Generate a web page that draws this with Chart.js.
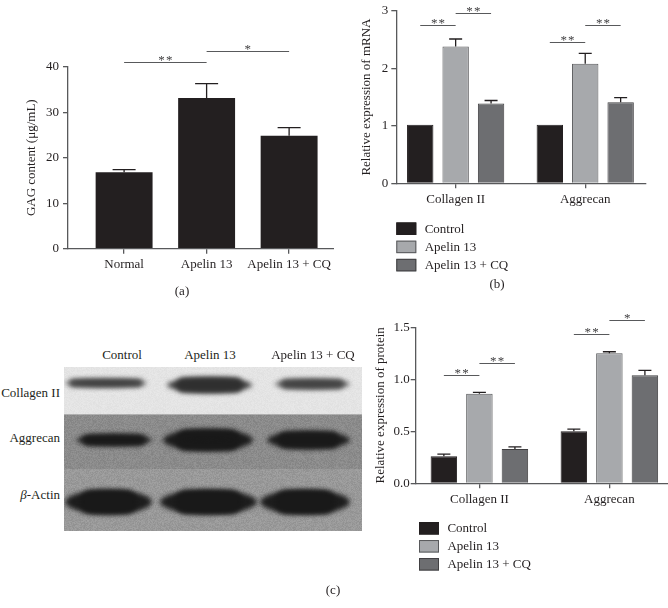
<!DOCTYPE html>
<html>
<head>
<meta charset="utf-8">
<script src="https://cdn.jsdelivr.net/npm/chart.js@4.4.1/dist/chart.umd.min.js"></script>
<style>
  html, body { margin: 0; padding: 0; background: #fff; }
  body { width: 668px; height: 608px; position: relative; overflow: hidden;
         font-family: 'Liberation Serif', 'Times New Roman', serif; color: #231f20; }
  .abs { position: absolute; }
  .lbl { position: absolute; font-size: 13px; line-height: 1; white-space: nowrap; transform: translate(-50%, -50%); }
  .rl { position: absolute; font-size: 13px; line-height: 1; white-space: nowrap; transform: translate(-100%, -50%); }
</style>
</head>
<body>
<canvas id="chartA" class="abs" width="334" height="310" style="left:0;top:0"></canvas>
<canvas id="chartB" class="abs" width="334" height="300" style="left:334px;top:0"></canvas>
<canvas id="blot" class="abs" width="298" height="164" style="left:64px;top:367px"></canvas>
<canvas id="chartC" class="abs" width="308" height="298" style="left:360px;top:310px"></canvas>

<div class="lbl" style="left:182px;top:290px">(a)</div>
<div class="lbl" style="left:497px;top:283px">(b)</div>
<div class="lbl" style="left:333px;top:589px">(c)</div>

<div class="lbl" style="left:122px;top:354px">Control</div>
<div class="lbl" style="left:210px;top:354px">Apelin 13</div>
<div class="lbl" style="left:313px;top:354px">Apelin 13 + CQ</div>
<div class="rl" style="left:60px;top:392px">Collagen II</div>
<div class="rl" style="left:60px;top:437px">Aggrecan</div>
<div class="rl" style="left:60px;top:494px"><i>β</i>-Actin</div>

<script>
// ---------------- DATA ----------------
const gagCategories = ['Normal', 'Apelin 13', 'Apelin 13 + CQ'];
const gagValues = [16.8, 33.1, 24.8];
const gagErrors = [0.6, 3.2, 1.8];

const geneCategories = ['Collagen II', 'Aggrecan'];
const groupLabels = ['Control', 'Apelin 13', 'Apelin 13 + CQ'];

const mrnaControl = [1.02, 1.02];
const mrnaApelin = [2.38, 2.08];
const mrnaApelinCQ = [1.39, 1.41];
const mrnaControlErr = [0, 0];
const mrnaApelinErr = [0.13, 0.18];
const mrnaApelinCQErr = [0.05, 0.08];

const proteinControl = [0.26, 0.50];
const proteinApelin = [0.86, 1.25];
const proteinApelinCQ = [0.33, 1.04];
const proteinControlErr = [0.02, 0.02];
const proteinApelinErr = [0.015, 0.015];
const proteinApelinCQErr = [0.02, 0.045];

// significance brackets: [datasetIndex, dataIndex] pairs, level in axis units
const gagSig = [
  { a: [0, 0], b: [0, 1], level: 41.0, text: '**' },
  { a: [0, 1], b: [0, 2], level: 43.4, text: '*' }
];
const mrnaSig = [
  { a: [0, 0], b: [1, 0], level: 2.75, text: '**' },
  { a: [1, 0], b: [2, 0], level: 2.96, text: '**' },
  { a: [0, 1], b: [1, 1], level: 2.46, text: '**' },
  { a: [1, 1], b: [2, 1], level: 2.75, text: '**' }
];
const proteinSig = [
  { a: [0, 0], b: [1, 0], level: 1.04, text: '**' },
  { a: [1, 0], b: [2, 0], level: 1.16, text: '**' },
  { a: [0, 1], b: [1, 1], level: 1.435, text: '**' },
  { a: [1, 1], b: [2, 1], level: 1.57, text: '*' }
];

// ---------------- STYLE ----------------
const INK = '#231f20';
const AXIS = '#58595b';
const FONT = "'Liberation Serif', 'Times New Roman', serif";
const fills = ['#231f20', '#a7a9ac', '#6d6e71'];
const edges = ['#231f20', '#58595b', '#414042'];

Chart.defaults.font.family = FONT;
Chart.defaults.font.size = 13;
Chart.defaults.color = INK;
Chart.defaults.animation = false;
Chart.defaults.plugins.legend.display = false;
Chart.defaults.plugins.tooltip.enabled = false;

// ---------------- PLUGINS ----------------
const errorBars = {
  id: 'errorBars',
  afterDatasetsDraw(chart, args, o) {
    const ctx = chart.ctx, ys = chart.scales.y;
    ctx.save();
    ctx.strokeStyle = INK;
    ctx.lineWidth = 1.3;
    chart.data.datasets.forEach((ds, di) => {
      const errs = ds.errors;
      if (!errs) return;
      chart.getDatasetMeta(di).data.forEach((el, i) => {
        const e = errs[i];
        if (!e) return;
        const yt = ys.getPixelForValue(ds.data[i].y + e);
        ctx.beginPath();
        ctx.moveTo(el.x, el.y);
        ctx.lineTo(el.x, yt);
        ctx.moveTo(el.x - o.cap / 2, yt);
        ctx.lineTo(el.x + o.cap / 2, yt);
        ctx.stroke();
      });
    });
    ctx.restore();
  }
};

const sigBars = {
  id: 'sigBars',
  afterDraw(chart, args, o) {
    const items = o.items || [];
    const ctx = chart.ctx, ys = chart.scales.y;
    ctx.save();
    ctx.strokeStyle = AXIS;
    ctx.lineWidth = 1.2;
    ctx.fillStyle = '#414042';
    ctx.font = '13px ' + FONT;
    ctx.textAlign = 'center';
    ctx.textBaseline = 'alphabetic';
    items.forEach(it => {
      const x1 = chart.getDatasetMeta(it.a[0]).data[it.a[1]].x;
      const x2 = chart.getDatasetMeta(it.b[0]).data[it.b[1]].x;
      const y = Math.round(ys.getPixelForValue(it.level)) + 0.5;
      ctx.beginPath();
      ctx.moveTo(x1, y);
      ctx.lineTo(x2, y);
      ctx.stroke();
      const t = it.text.split('').join('\u200A');
      ctx.fillText(t, (x1 + x2) / 2, y + 1.5);
    });
    ctx.restore();
  }
};

const boxLegend = {
  id: 'boxLegend',
  afterDraw(chart, args, o) {
    if (o.x === undefined) return;
    const ctx = chart.ctx;
    ctx.save();
    ctx.font = '13px ' + FONT;
    ctx.textAlign = 'left';
    ctx.textBaseline = 'middle';
    chart.data.datasets.forEach((ds, i) => {
      const cy = o.y + i * o.gap;
      ctx.fillStyle = ds.backgroundColor;
      ctx.fillRect(o.x, cy - o.h / 2, o.w, o.h);
      ctx.strokeStyle = ds.borderColor;
      ctx.lineWidth = 1;
      ctx.strokeRect(o.x + 0.5, cy - o.h / 2 + 0.5, o.w - 1, o.h - 1);
      ctx.fillStyle = INK;
      ctx.fillText(ds.label, o.x + o.w + o.pad, cy + 0.5);
    });
    ctx.restore();
  }
};

// ---------------- HELPERS ----------------
function toPoints(values) { return values.map((v, i) => ({ x: i, y: v })); }

function axisCommon() {
  return {
    offset: false,
    border: { display: true, color: AXIS, width: 1.3 },
    grid: { display: true, offset: false, drawOnChartArea: false, drawTicks: true, tickLength: 5, color: AXIS, lineWidth: 1.3 }
  };
}

function makeChart(id, cfg) {
  const x = Object.assign(axisCommon(), {
    type: 'linear',
    min: cfg.xmin, max: cfg.xmax,
    afterBuildTicks: s => { s.ticks = cfg.categories.map((_, i) => ({ value: i })); },
    afterFit: s => { s.height = cfg.xHeight; },
    ticks: {
      autoSkip: false, maxRotation: 0, minRotation: 0, padding: 3,
      color: INK, font: { size: 13 },
      callback: v => cfg.categories[v]
    }
  });
  const y = Object.assign(axisCommon(), {
    min: cfg.ymin, max: cfg.ymax,
    afterFit: s => { s.width = cfg.yWidth; },
    ticks: {
      stepSize: cfg.ystep, padding: cfg.yPad, color: INK, font: { size: 13 },
      callback: cfg.yFmt || (v => v)
    },
    title: {
      display: true, text: cfg.yTitle, color: INK, font: { size: 13 },
      padding: { top: cfg.titleOff, bottom: 0 }
    }
  });
  return new Chart(document.getElementById(id), {
    type: 'bar',
    data: { datasets: cfg.datasets },
    options: {
      responsive: false,
      maintainAspectRatio: false,
      layout: { padding: { left: 0, top: cfg.padTop, right: cfg.padRight, bottom: 0 } },
      scales: { x, y },
      plugins: {
        errorBars: { cap: cfg.cap },
        sigBars: { items: cfg.sig },
        boxLegend: cfg.legend || {}
      }
    },
    plugins: [errorBars, sigBars, boxLegend]
  });
}

function groupedDatasets(series, errors) {
  return series.map((vals, k) => ({
    label: groupLabels[k],
    data: toPoints(vals),
    errors: errors[k],
    backgroundColor: fills[k],
    borderColor: edges[k],
    borderWidth: 1,
    categoryPercentage: 0.82,
    barPercentage: 0.745
  }));
}

// ---------------- CHART (a) ----------------
makeChart('chartA', {
  categories: gagCategories,
  datasets: [{
    label: 'GAG',
    data: toPoints(gagValues),
    errors: gagErrors,
    backgroundColor: INK,
    borderColor: INK,
    borderWidth: 0,
    categoryPercentage: 1,
    barPercentage: 0.69
  }],
  xmin: -0.68, xmax: 2.544,
  ymin: 0, ymax: 40, ystep: 10, yPad: 4,
  yWidth: 68, xHeight: 310 - 248.7, padTop: 66.7, padRight: 0,
  yTitle: 'GAG content (μg/mL)', titleOff: 24,
  cap: 23, sig: gagSig
});

// ---------------- CHART (b) ----------------
makeChart('chartB', {
  categories: geneCategories,
  datasets: groupedDatasets([mrnaControl, mrnaApelin, mrnaApelinCQ],
                            [mrnaControlErr, mrnaApelinErr, mrnaApelinCQErr]),
  xmin: -0.458, xmax: 1.469,
  ymin: 0, ymax: 3, ystep: 1, yPad: 3,
  yWidth: 62.3, xHeight: 300 - 183.3, padTop: 7.7, padRight: 22,
  yTitle: 'Relative expression of mRNA', titleOff: 25,
  cap: 13, sig: mrnaSig,
  legend: { x: 62.3, y: 228.7, gap: 18.2, w: 20, h: 12.5, pad: 8.4 }
});

// ---------------- CHART (c) ----------------
makeChart('chartC', {
  categories: geneCategories,
  datasets: groupedDatasets([proteinControl, proteinApelin, proteinApelinCQ],
                            [proteinControlErr, proteinApelinErr, proteinApelinCQErr]),
  xmin: -0.49, xmax: 1.451,
  ymin: 0, ymax: 1.5, ystep: 0.5, yPad: 1,
  yFmt: v => Number(v).toFixed(1),
  yWidth: 55.7, xHeight: 298 - 173.3, padTop: 17.3, padRight: 0,
  yTitle: 'Relative expression of protein', titleOff: 13,
  cap: 13, sig: proteinSig,
  legend: { x: 59, y: 218.3, gap: 18, w: 20, h: 12.5, pad: 8.4 }
});

// ---------------- WESTERN BLOT PICTURE ----------------
(function drawBlot() {
  const cv = document.getElementById('blot');
  const ctx = cv.getContext('2d');
  const W = cv.width, H = cv.height;
  const strips = [
    { top: 0, bottom: 47, bg: '#e4e4e4' },
    { top: 47, bottom: 102, bg: '#8b8b8b' },
    { top: 102, bottom: H, bg: '#999999' }
  ];
  strips.forEach(s => { ctx.fillStyle = s.bg; ctx.fillRect(0, s.top, W, s.bottom - s.top); });
  // fine grain texture (deterministic)
  const img = ctx.getImageData(0, 0, W, H);
  for (let yy = 0; yy < H; yy++) {
    for (let xx = 0; xx < W; xx++) {
      const h = Math.sin(xx * 12.9898 + yy * 78.233) * 43758.5453;
      const n = (h - Math.floor(h) - 0.5) * (yy < 47 ? 8 : 18);
      const p = (yy * W + xx) * 4;
      img.data[p] += n; img.data[p + 1] += n; img.data[p + 2] += n;
    }
  }
  ctx.putImageData(img, 0, 0);
  const bands = [
    [1, 83, 16, 8, 'rgba(60,60,60,0.85)'],
    [103, 188, 18, 15, 'rgba(45,45,45,0.9)'],
    [211, 286, 17, 10, 'rgba(60,60,60,0.8)'],
    [12, 88, 73, 11, 'rgba(25,25,25,0.95)'],
    [99, 189, 73, 21, 'rgba(25,25,25,0.97)'],
    [203, 286, 73, 17, 'rgba(25,25,25,0.95)'],
    [1, 88, 135, 24, 'rgba(25,25,25,0.97)'],
    [96, 193, 135, 24, 'rgba(25,25,25,0.97)'],
    [196, 286, 135, 24, 'rgba(25,25,25,0.97)']
  ];
  ctx.save();
  ctx.filter = 'blur(2.5px)';
  bands.forEach(([x0, x1, cy, h, c]) => {
    ctx.fillStyle = c;
    ctx.beginPath();
    ctx.ellipse((x0 + x1) / 2, cy, (x1 - x0) / 2, h / 2, 0, 0, Math.PI * 2);
    ctx.fill();
    ctx.beginPath();
    ctx.roundRect(x0 + h * 0.6, cy - h / 2, (x1 - x0) - h * 1.2, h, h / 2);
    ctx.fill();
  });
  ctx.restore();
  ctx.strokeStyle = 'rgba(200,200,200,0.6)';
  ctx.lineWidth = 1;
  ctx.beginPath(); ctx.moveTo(0, 47.5); ctx.lineTo(W, 47.5); ctx.stroke();
})();
</script>
</body>
</html>
